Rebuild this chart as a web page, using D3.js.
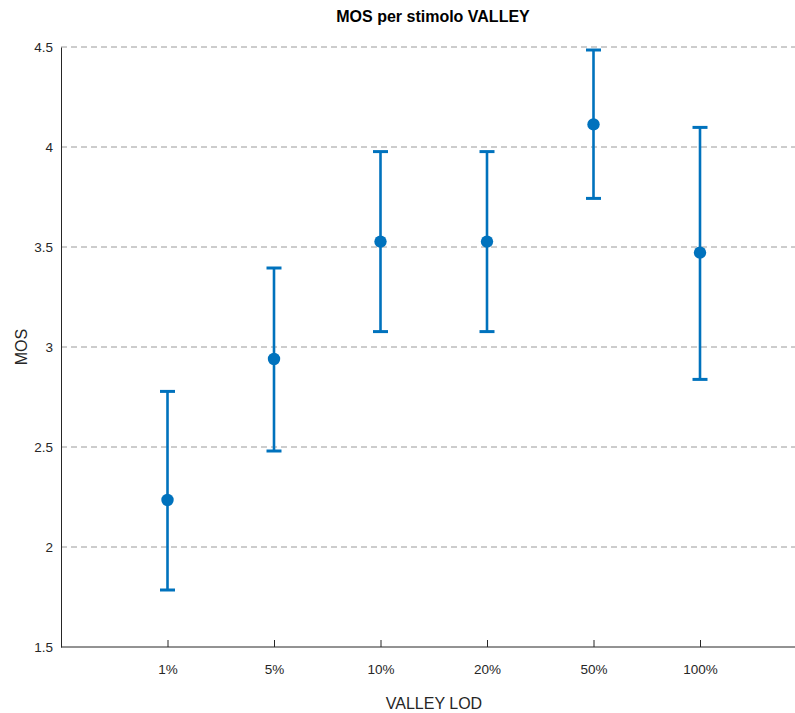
<!DOCTYPE html>
<html><head><meta charset="utf-8">
<script src="https://cdn.jsdelivr.net/npm/d3@7"></script>
<style>body{margin:0;background:#fff}</style>
</head><body>
<script>
const categories = ["1%","5%","10%","20%","50%","100%"];
const means = [2.235, 2.94, 3.527, 3.527, 4.113, 3.472];
const upper = [2.778, 3.395, 3.977, 3.977, 4.485, 4.098];
const lower = [1.785, 2.48, 3.077, 3.077, 3.743, 2.838];
const yTicks = [1.5, 2, 2.5, 3, 3.5, 4, 4.5];

(function () {
const W = 795, H = 713;
const svg = d3.select("body").append("svg").attr("width", W).attr("height", H)
  .style("font-family", "'Liberation Sans', Arial, Helvetica, sans-serif");

const mLeft = 61, mTop = 47, mBottom = 647;
const step = 106.5;
const x = d3.scaleLinear().domain([0, 7]).range([mLeft, mLeft + 7 * step]);
const y = d3.scaleLinear().domain([1.5, 4.5]).range([mBottom, mTop]);

// grid
svg.append("g").selectAll("line").data(yTicks.slice(1)).join("line")
  .attr("x1", mLeft).attr("x2", W).attr("y1", d => y(d)).attr("y2", d => y(d))
  .attr("stroke", "#9a9a9a").attr("stroke-width", 1).attr("stroke-dasharray", "6,4");

// axes
const yAxis = d3.axisLeft(y).tickValues(yTicks).tickSize(0).tickPadding(8)
  .tickFormat(d => d3.format("")(d));
const gy = svg.append("g").attr("transform", `translate(${mLeft},0)`).call(yAxis);
gy.select(".domain").attr("stroke", "#262626");
gy.selectAll("text").attr("font-size", 13.5).attr("fill", "#262626");

const xAxis = d3.axisBottom(x).tickValues(d3.range(1, 7)).tickSize(-7).tickPadding(17)
  .tickFormat(i => categories[i - 1]);
const gx = svg.append("g").attr("transform", `translate(0,${mBottom})`).call(xAxis);
gx.select(".domain").attr("stroke", "#262626").attr("d", `M${mLeft},0H${W}`);
gx.selectAll(".tick line").attr("stroke", "#262626");
gx.selectAll("text").attr("font-size", 13.5).attr("fill", "#262626");

// error bars
const color = "#0072BD";
const g = svg.append("g");
const idx = d3.range(categories.length);
g.selectAll("line.v").data(idx).join("line").attr("class", "v")
  .attr("x1", i => x(i + 1)).attr("x2", i => x(i + 1))
  .attr("y1", i => y(upper[i])).attr("y2", i => y(lower[i]))
  .attr("stroke", color).attr("stroke-width", 2.6);
[upper, lower].forEach(arr => {
  g.selectAll(null).data(idx).join("line")
    .attr("x1", i => x(i + 1) - 7.5).attr("x2", i => x(i + 1) + 7.5)
    .attr("y1", i => y(arr[i])).attr("y2", i => y(arr[i]))
    .attr("stroke", color).attr("stroke-width", 3);
});
g.selectAll("circle").data(idx).join("circle")
  .attr("cx", i => x(i + 1)).attr("cy", i => y(means[i])).attr("r", 6.2)
  .attr("fill", color);

// labels
svg.append("text").attr("x", 433).attr("y", 22).attr("text-anchor", "middle")
  .attr("font-size", 16).attr("font-weight", "bold").attr("fill", "#000").text("MOS per stimolo VALLEY");
svg.append("text").attr("x", 434).attr("y", 709).attr("text-anchor", "middle")
  .attr("font-size", 16).attr("fill", "#262626").text("VALLEY LOD");
svg.append("text").attr("transform", "translate(27,347) rotate(-90)").attr("text-anchor", "middle")
  .attr("font-size", 16).attr("fill", "#262626").text("MOS");
})();
</script>
</body></html>
